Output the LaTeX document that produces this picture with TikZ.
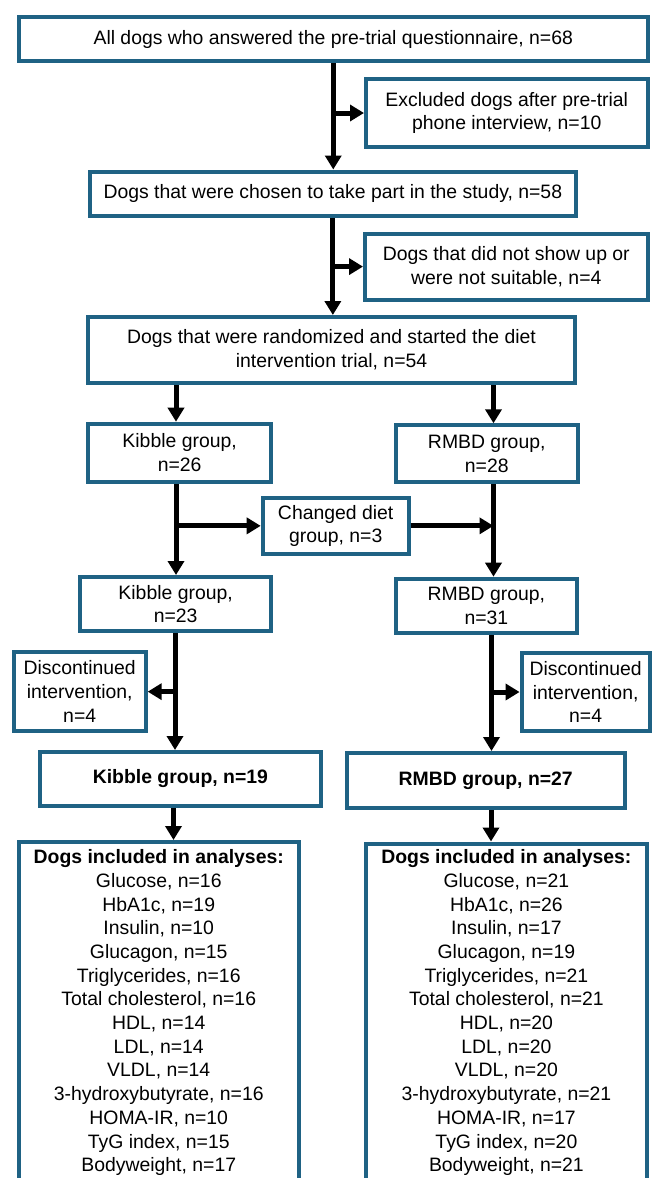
\documentclass[tikz,border=0pt]{standalone}
\usepackage{fontspec}
\setmainfont{Liberation Sans}
\usetikzlibrary{arrows.meta,calc}
\definecolor{boxblue}{HTML}{1F6284}
\begin{document}
\begin{tikzpicture}[x=1pt,y=-1pt]
\tikzset{
  box/.style={draw=boxblue, line width=4pt, fill=white, inner sep=0pt, align=center,
    font=\fontsize{19.4}{23.7}\selectfont},
  arr/.style={line width=5pt, -{Triangle[length=14pt,width=16pt]}},
  txt/.style={inner sep=0pt, align=center, font=\fontsize{19.4}{23.7}\selectfont}
}
\useasboundingbox (0,0) rectangle (653,1178);
\clip (0,0) rectangle (653,1178);
\fill[white] (0,0) rectangle (653,1178);

\node[box, minimum width=629.5pt, minimum height=44.6pt] (all) at (333.25,39)
  {All dogs who answered the pre-trial questionnaire, n=68};
\node[box, minimum width=281.5pt, minimum height=68pt] (excl1) at (506.75,113)
  {Excluded dogs after pre-trial\\phone interview, n=10};
\node[box, minimum width=486.3pt, minimum height=44.5pt] (chosen) at (332.85,193.75)
  {Dogs that were chosen to take part in the study, n=58};
\node[box, minimum width=282.5pt, minimum height=65.8pt] (excl2) at (506.25,266.6)
  {Dogs that did not show up or\\were not suitable, n=4};
\node[box, minimum width=487pt, minimum height=66pt] (rand) at (331.5,350)
  {Dogs that were randomized and started the diet\\intervention trial, n=54};
\node[box, minimum width=183.3pt, minimum height=58.3pt] (kib26) at (179.65,452.85)
  {Kibble group,\\n=26};
\node[box, minimum width=182.5pt, minimum height=56.7pt] (rm28) at (486.75,453.65)
  {RMBD group,\\n=28};
\node[box, minimum width=146pt, minimum height=55.7pt] (chg) at (335.7,525.85)
  {Changed diet\\group, n=3};
\node[box, minimum width=190.7pt, minimum height=54.3pt] (kib23) at (175.65,604.15)
  {Kibble group,\\n=23};
\node[box, minimum width=181.3pt, minimum height=54.3pt] (rm31) at (486.35,605.85)
  {RMBD group,\\n=31};
\node[box, minimum width=132pt, minimum height=79.3pt] (discL) at (79.7,691.65)
  {Discontinued\\intervention,\\n=4};
\node[box, minimum width=128pt, minimum height=78.6pt] (discR) at (585.6,692)
  {Discontinued\\intervention,\\n=4};
\node[box, minimum width=280.2pt, minimum height=54pt, font=\fontsize{19.4}{23.7}\selectfont\bfseries] (kib19) at (180.4,779)
  {Kibble group, n=19};
\node[box, minimum width=278.5pt, minimum height=55pt, font=\fontsize{19.4}{23.7}\selectfont\bfseries] (rm27) at (485.75,780.5)
  {RMBD group, n=27};
\node[box, anchor=north, minimum width=280.1pt, minimum height=400pt] (inclL) at (158.75,840) {};
\node[box, anchor=north, minimum width=281.25pt, minimum height=400pt] (inclR) at (506.4,841.5) {};
\node[txt, anchor=north] (inclLtxt) at (158.75,849.4)
  {\textbf{Dogs included in analyses:}\\Glucose, n=16\\HbA1c, n=19\\Insulin, n=10\\Glucagon, n=15\\Triglycerides, n=16\\Total cholesterol, n=16\\HDL, n=14\\LDL, n=14\\VLDL, n=14\\3-hydroxybutyrate, n=16\\HOMA-IR, n=10\\TyG index, n=15\\Bodyweight, n=17};
\node[txt, anchor=north] (inclRtxt) at (506.4,849.4)
  {\textbf{Dogs included in analyses:}\\Glucose, n=21\\HbA1c, n=26\\Insulin, n=17\\Glucagon, n=19\\Triglycerides, n=21\\Total cholesterol, n=21\\HDL, n=20\\LDL, n=20\\VLDL, n=20\\3-hydroxybutyrate, n=21\\HOMA-IR, n=17\\TyG index, n=20\\Bodyweight, n=21};

\coordinate (L1) at (176,0);
\coordinate (R1) at (493.5,0);
\coordinate (L2) at (175,0);
\coordinate (R2) at (491.5,0);
\coordinate (L3) at (173.5,0);
\coordinate (R3) at (491,0);

\draw[arr] (all.south) -- (all.south |- chosen.north);
\draw[arr] (all.south |- excl1.west) -- (excl1.west);
\draw[arr] (chosen.south) -- (chosen.south |- rand.north);
\draw[arr] (chosen.south |- excl2.west) -- (excl2.west);
\draw[arr] (rand.south -| L1) -- (kib26.north -| L1);
\draw[arr] (rand.south -| R1) -- (rm28.north -| R1);
\draw[arr] (kib26.south -| L1) -- (kib23.north -| L1);
\draw[arr] (rm28.south -| R1) -- (rm31.north -| R1);
\draw[arr] (chg.west -| L1) -- (chg.west);
\draw[arr] (chg.east) -- (chg.east -| R1);
\draw[arr] (kib23.south -| L2) -- (kib19.north -| L2);
\draw[arr] (discL.east -| L2) -- (discL.east);
\draw[arr] (rm31.south -| R2) -- (rm27.north -| R2);
\draw[arr] (discR.west -| R2) -- (discR.west);
\draw[arr] (kib19.south -| L3) -- (inclL.north -| L3);
\draw[arr] (rm27.south -| R3) -- (inclR.north -| R3);
\end{tikzpicture}
\end{document}
